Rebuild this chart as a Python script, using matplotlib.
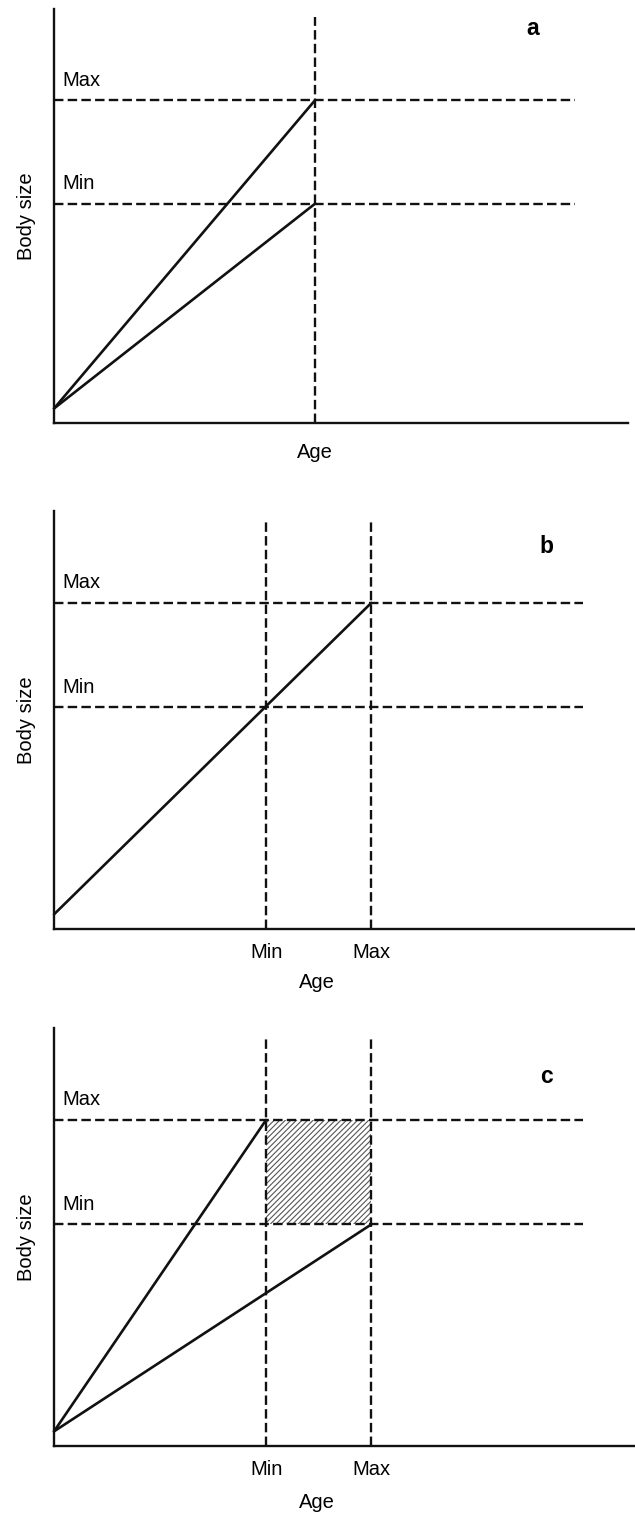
import matplotlib
matplotlib.use("Agg")
import matplotlib.pyplot as plt

plt.rcParams['font.family'] = ['Liberation Sans', 'DejaVu Sans']
plt.rcParams['hatch.linewidth'] = 0.8

# ---- data (arbitrary units, 0-100 scale) ----
panel_labels = ["a", "b", "c"]
size_levels = [53, 78]          # Min, Max body size
size_level_names = ["Min", "Max"]
size_start = 3.5                # body size at age 0
age_a = 45.5                    # single age at maturity (panel a)
age_levels = [36.5, 54.6]       # Min, Max age (panels b, c)
age_tick_labels = ["Min", "Max"]
# growth trajectories: (end age, end size)
traj_a = [(age_a, 78), (age_a, 53)]
traj_b = [(54.6, 78)]
traj_c = [(36.5, 78), (54.6, 53)]
dash_end_a = 90.8
dash_end_bc = 91.0
vline_top = 98.1

W, H = 635, 1513
fig = plt.figure(figsize=(W / 100, H / 100), dpi=100)

def px_axes(left, right, top, bottom):
    return fig.add_axes([left / W, (H - bottom) / H, (right - left) / W, (bottom - top) / H])

lw_d = 1.7
dash = (0, (4.0, 1.8))
lw_s = 1.9

panels = [
    dict(box=(54, 628, 9, 423), vlines=[age_a], traj=traj_a, dend=dash_end_a,
         ticks=False, lab=(82.3, 95.4), age_off=29),
    dict(box=(54, 635, 511, 929), vlines=age_levels, traj=traj_b, dend=dash_end_bc,
         ticks=True, lab=(83.5, 91.4), age_off=53),
    dict(box=(54, 635, 1028, 1446), vlines=age_levels, traj=traj_c, dend=dash_end_bc,
         ticks=True, lab=(83.6, 88.5), age_off=57),
]

for i, p in enumerate(panels):
    l, r, t, b = p["box"]
    ax = px_axes(l, r, t, b)
    ax.set_xlim(0, 100)
    ax.set_ylim(0, 100)
    for s in ["top", "right"]:
        ax.spines[s].set_visible(False)
    for s in ["left", "bottom"]:
        ax.spines[s].set_linewidth(1.7)
        ax.spines[s].set_color("#111111")
    ax.set_yticks([])
    if p["ticks"]:
        ax.set_xticks(age_levels)
        ax.set_xticklabels(age_tick_labels, fontsize=14.5)
        ax.tick_params(axis="x", length=0, pad=10)
    else:
        ax.set_xticks([])

    # horizontal dashed lines for size thresholds
    for yv, nm in zip(size_levels, size_level_names):
        ax.plot([0, p["dend"]], [yv, yv], color="#111111", lw=lw_d, linestyle=dash,
                clip_on=False)
        ax.text(1.5, yv + 4.8, nm, fontsize=14.5, ha="left", va="center")
    # vertical dashed lines for age thresholds
    for xv in p["vlines"]:
        ax.plot([xv, xv], [0, vline_top], color="#111111", lw=lw_d, linestyle=dash,
                clip_on=False)
    # hatched region (panel c)
    if i == 2:
        ax.fill_between(age_levels, size_levels[0], size_levels[1], facecolor="none",
                        edgecolor="#555555", hatch="//////", linewidth=0)
    # growth trajectories
    for xe, ye in p["traj"]:
        ax.plot([0, xe], [size_start, ye], color="#111111", lw=lw_s,
                solid_capstyle="round", clip_on=False)

    ax.text(p["lab"][0], p["lab"][1], panel_labels[i], fontsize=16.5, fontweight="bold",
            ha="left", va="center")
    # axis titles
    fig.text(315 / W if i == 0 else 317 / W, (H - (b + p["age_off"])) / H, "Age",
             fontsize=14.5, ha="center", va="center")
    fig.text(26 / W, (H - (t + b) / 2) / H, "Body size", fontsize=14.5, rotation=90,
             ha="center", va="center")

fig.savefig("out.png", dpi=100)
